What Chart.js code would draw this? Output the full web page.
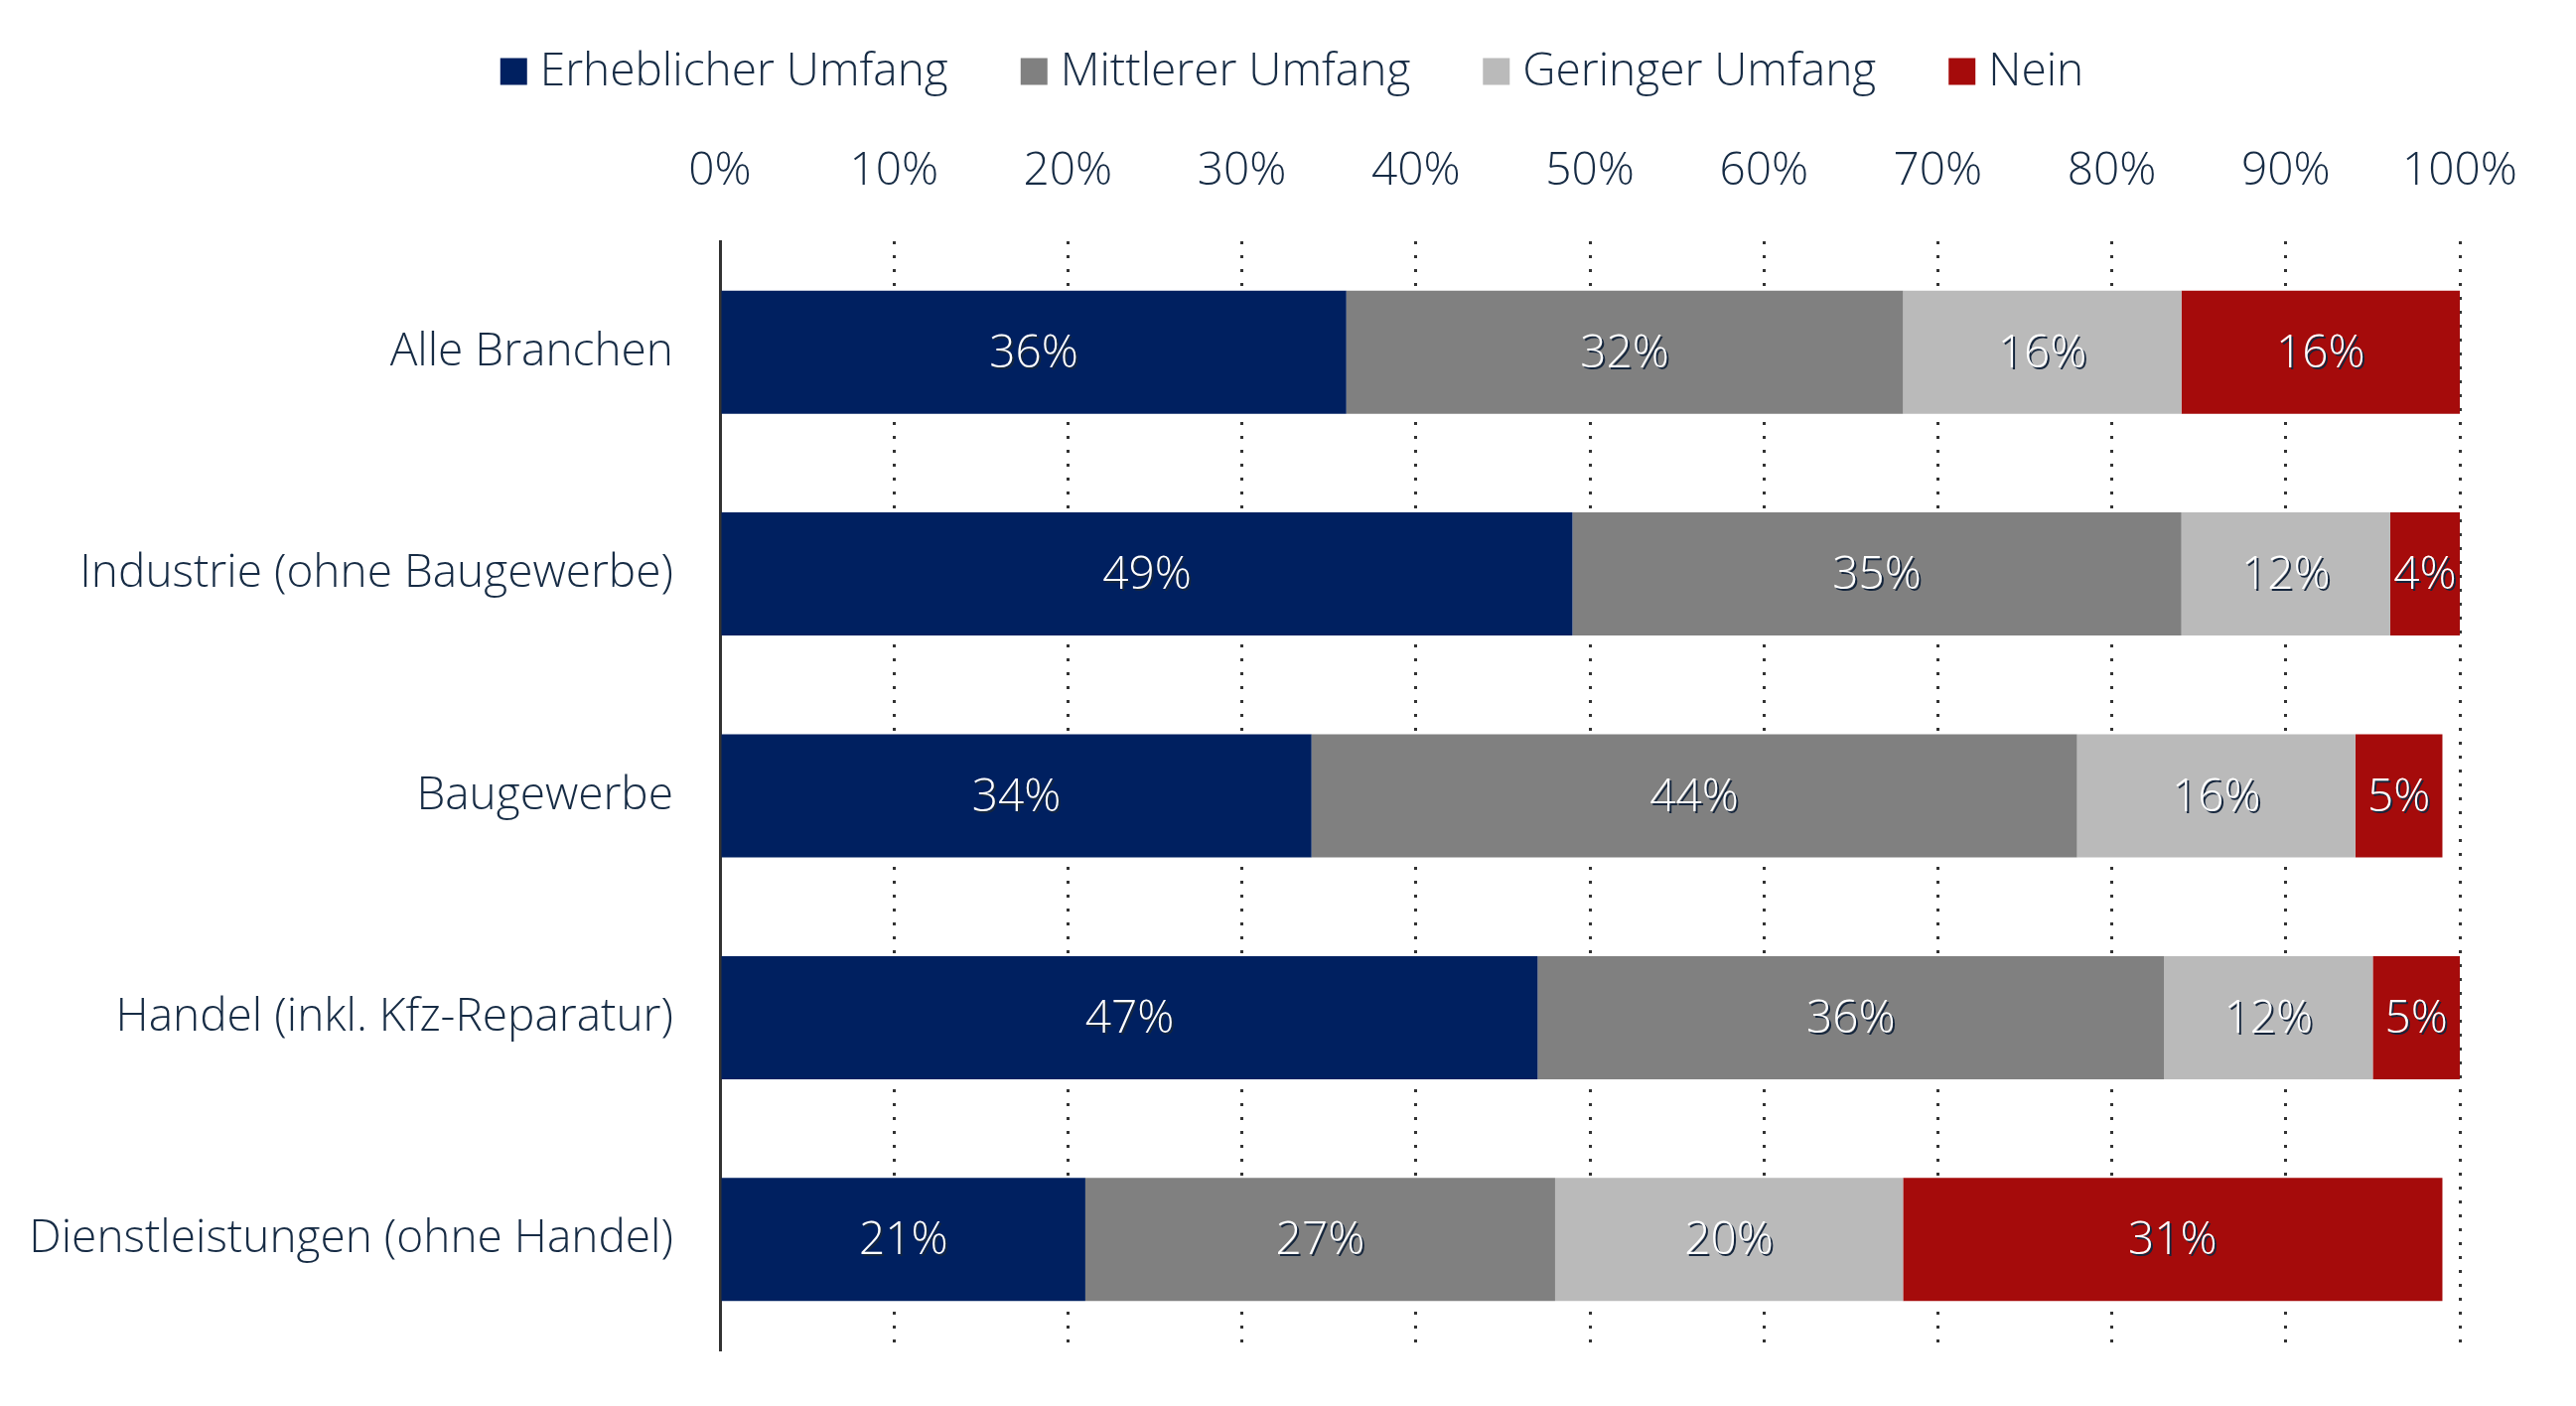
<!DOCTYPE html>
<html><head><meta charset="utf-8">
<script src="https://cdn.jsdelivr.net/npm/chart.js@4.4.1/dist/chart.umd.min.js"></script>
<style>html,body{margin:0;padding:0;background:#fff;overflow:hidden}#wrap{width:2594px;height:1416px;position:relative}</style>
</head><body><div id="wrap"><canvas id="c"></canvas></div>
<script>
const categories = ['Alle Branchen', 'Industrie (ohne Baugewerbe)', 'Baugewerbe', 'Handel (inkl. Kfz-Reparatur)', 'Dienstleistungen (ohne Handel)'];
const seriesNames = ['Erheblicher Umfang', 'Mittlerer Umfang', 'Geringer Umfang', 'Nein'];
const erheblich = [36, 49, 34, 47, 21];
const mittel = [32, 35, 44, 36, 27];
const gering = [16, 12, 16, 12, 20];
const nein = [16, 4, 5, 5, 31];
const xTickValues = [0, 10, 20, 30, 40, 50, 60, 70, 80, 90, 100];

const seriesValues = [erheblich, mittel, gering, nein];
const seriesColors = ['#002060', '#808080', '#bababa', '#a50b0b'];
const textColor = '#172c45';
const FONT_FAMILY = "'Open Sans', 'Noto Sans', sans-serif";
const FONT_WEIGHT = 300;
const FONT_SIZE = 46;

const labelPlugin = {
  id: 'barLabels',
  afterDatasetsDraw(chart) {
    const ctx = chart.ctx;
    ctx.save();
    ctx.font = FONT_WEIGHT + ' ' + FONT_SIZE + 'px ' + FONT_FAMILY;
    ctx.textAlign = 'center';
    ctx.textBaseline = 'middle';
    ctx.fillStyle = '#ffffff';
    ctx.shadowColor = '#15263d';
    ctx.shadowOffsetX = 2;
    ctx.shadowOffsetY = 2;
    ctx.shadowBlur = 0;
    chart.data.datasets.forEach((ds, di) => {
      const meta = chart.getDatasetMeta(di);
      meta.data.forEach((bar, i) => {
        const v = ds.data[i];
        const p = bar.getProps(['x', 'y', 'base'], true);
        ctx.fillText(v + '%', (p.x + p.base) / 2, p.y + 2);
      });
    });
    ctx.restore();
  }
};

const legendPlugin = {
  id: 'customLegend',
  afterDraw(chart) {
    const ctx = chart.ctx;
    ctx.save();
    ctx.font = FONT_WEIGHT + ' ' + FONT_SIZE + 'px ' + FONT_FAMILY;
    const box = 27, gapText = 13, gapItem = 73, cy = 72;
    const widths = chart.data.datasets.map(d => ctx.measureText(d.label).width);
    let total = 0;
    widths.forEach((w, i) => { total += box + gapText + w + (i < widths.length - 1 ? gapItem : 0); });
    let x = 1301 - total / 2;
    ctx.textBaseline = 'middle';
    ctx.textAlign = 'left';
    chart.data.datasets.forEach((d, i) => {
      ctx.fillStyle = d.backgroundColor;
      ctx.fillRect(x, cy - box / 2, box, box);
      ctx.fillStyle = textColor;
      ctx.fillText(d.label, x + box + gapText, cy + 1);
      x += box + gapText + widths[i] + gapItem;
    });
    ctx.restore();
  }
};

new Chart(document.getElementById('c'), {
  type: 'bar',
  data: {
    labels: categories,
    datasets: seriesNames.map((n, i) => ({
      label: n,
      data: seriesValues[i],
      backgroundColor: seriesColors[i],
      borderWidth: 0,
      barPercentage: 0.555,
      categoryPercentage: 1.0
    }))
  },
  options: {
    indexAxis: 'y',
    responsive: true,
    maintainAspectRatio: false,
    animation: false,
    layout: { padding: { top: 120, right: 117, bottom: 56, left: 0 } },
    plugins: { legend: { display: false }, tooltip: { enabled: false } },
    scales: {
      x: {
        position: 'top',
        stacked: true,
        min: 0,
        max: 100,
        afterBuildTicks(scale) { scale.ticks = xTickValues.map(v => ({ value: v })); },
        afterFit(scale) { scale.height = 123; },
        ticks: {
          padding: 43,
          color: textColor,
          font: { family: FONT_FAMILY, size: FONT_SIZE, weight: FONT_WEIGHT },
          callback: v => v + '%',
          maxRotation: 0,
          autoSkip: false
        },
        grid: { display: true, color: '#333333', lineWidth: 3, drawTicks: false },
        border: { display: false, dash: [3, 11] }
      },
      y: {
        stacked: true,
        afterFit(scale) { scale.width = 725; scale.paddingTop = 0; scale.paddingBottom = 0; },
        ticks: {
          padding: 47,
          color: textColor,
          font: { family: FONT_FAMILY, size: FONT_SIZE, weight: FONT_WEIGHT }
        },
        grid: { display: false, drawTicks: false },
        border: { display: true, color: '#333333', width: 3 }
      }
    }
  },
  plugins: [labelPlugin, legendPlugin]
});
</script>
</body></html>
